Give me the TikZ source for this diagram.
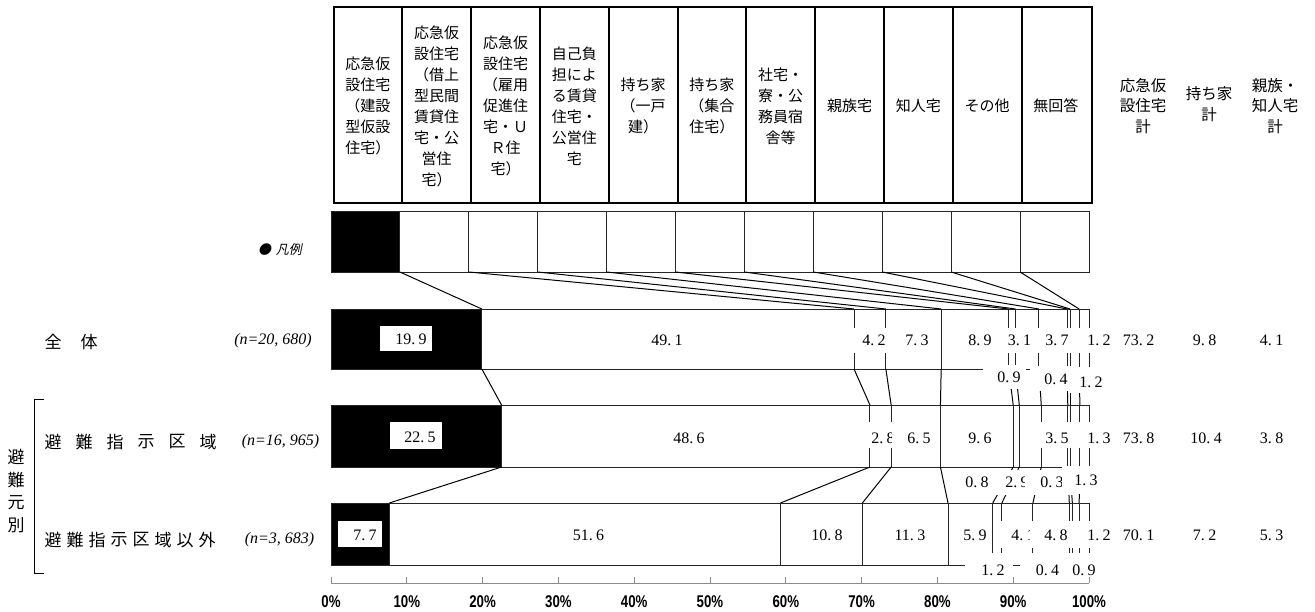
\documentclass[tikz,border=0pt]{standalone}
\usepackage{fontspec}
\setmainfont{Liberation Serif}
\newfontfamily\jp{Noto Sans CJK JP}
\newfontfamily\jpsl{Noto Sans CJK JP}[FakeSlant=0.2]
\newfontfamily\axf{Liberation Sans}
\newcommand{\dnum}[2]{#1.\kern3.5pt #2}
\newcommand{\lab}[8]{\fill[white] (#4,#6) rectangle (#5,#7);
  \node[num] (#1) at (#2,#3) {#8};}
\begin{document}
\begin{tikzpicture}[x=1pt,y=-1pt,
  hdr/.style={font=\jp\fontsize{15}{21}\selectfont, align=center, inner sep=0pt},
  rhdr/.style={font=\jp\fontsize{15.5}{20.5}\selectfont, align=center, inner sep=0pt},
  num/.style={font=\fontsize{16}{16}\selectfont, inner sep=0pt},
  jpl/.style={font=\jp\fontsize{17}{17}\selectfont, inner sep=0pt},
  nlab/.style={font=\itshape\fontsize{16}{16}\selectfont, inner sep=0pt},
  axl/.style={font=\axf\bfseries\fontsize{17}{17}\selectfont, inner sep=0pt},
  frame/.style={draw=black, line width=2pt},
  barline/.style={draw=black!85, line width=1pt},
  conn/.style={draw=black, line width=1pt},
  axis/.style={draw=black!45, line width=1pt},
]
\useasboundingbox (0,0) rectangle (1315,611);
\fill[white] (0,0) rectangle (1315,611);

% ---------- header ----------
\draw[frame] (333.5,7) rectangle (1091.5,203);
\foreach \i in {1,...,10} \draw[frame] ({333.5+68.8*\i},7) -- ({333.5+68.8*\i},203);
\foreach \t [count=\i] in {
  {応急仮\\設住宅\\（建設\\型仮設\\住宅）},
  {応急仮\\設住宅\\（借上\\型民間\\賃貸住\\宅・公\\営住\\宅）},
  {応急仮\\設住宅\\（雇用\\促進住\\宅・Ｕ\\Ｒ住\\宅）},
  {自己負\\担によ\\る賃貸\\住宅・\\公営住\\宅},
  {持ち家\\（一戸\\建）},
  {持ち家\\（集合\\住宅）},
  {社宅・\\寮・公\\務員宿\\舎等},
  {親族宅},{知人宅},{その他},{無回答}}
  \node[hdr] (hd\i) at ({333.5+68.8*(\i-0.5)},106) {\t};

\node[rhdr] (hs1) at (1143,106) {応急仮\\設住宅\\計};
\node[rhdr] (hs2) at (1209,104) {持ち家\\計};
\node[rhdr] (hs3) at (1275,106) {親族・\\知人宅\\計};

% ---------- legend bar ----------
\fill[black] (331,211) rectangle ({331+758/11},272);
\draw[barline] (331,211) rectangle (1089,272);
\foreach \i in {1,...,10} {
  \coordinate (Lt\i) at ({331+758*\i/11},211);
  \coordinate (L\i) at ({331+758*\i/11},272);
  \draw[barline] (Lt\i) -- (L\i);
}
\node[font=\jpsl\fontsize{13}{13}\selectfont, inner sep=0pt] (legend) at (280,250) {●\kern5pt 凡例};

% ---------- bars: boundaries ----------
\foreach \c [count=\i] in {19.9,69.0,73.2,80.5,89.4,90.3,93.4,97.1,97.5,98.7} {
  \coordinate (At\i) at ({331+7.58*\c},309);
  \coordinate (Ab\i) at ({331+7.58*\c},369);
}
\foreach \c [count=\i] in {22.5,71.1,73.9,80.4,90.0,90.8,93.7,97.2,97.5,98.8} {
  \coordinate (Bt\i) at ({331+7.58*\c},405);
  \coordinate (Bb\i) at ({331+7.58*\c},467);
}
\foreach \c [count=\i] in {7.7,59.3,70.1,81.4,87.3,88.5,92.6,97.4,97.8,98.7} {
  \coordinate (Ct\i) at ({331+7.58*\c},503);
  \coordinate (Cb\i) at ({331+7.58*\c},565);
}
\fill[black] (331,309) rectangle (Ab1);
\fill[black] (331,405) rectangle (Bb1);
\fill[black] (331,503) rectangle (Cb1);
\draw[barline] (331,309) rectangle (1089,369);
\draw[barline] (331,405) rectangle (1089,467);
\draw[barline] (331,503) rectangle (1089,565);
\foreach \i in {1,...,10} {
  \draw[barline] (At\i) -- (Ab\i);
  \draw[barline] (Bt\i) -- (Bb\i);
  \draw[barline] (Ct\i) -- (Cb\i);
  \draw[conn] (L\i) -- (At\i);
  \draw[conn] (Ab\i) -- (Bt\i);
  \draw[conn] (Bb\i) -- (Ct\i);
}

% ---------- data labels (white boxes, series order) ----------
\lab{a1}{411}{339}{380}{432}{326}{351}{\dnum{19}{9}}
\lab{a2}{667}{340}{645}{689}{327.5}{352.5}{\dnum{49}{1}}
\lab{a3}{874}{340}{851}{897}{327.5}{352.5}{\dnum{4}{2}}
\lab{a4}{917}{340}{895}{939}{327.5}{352.5}{\dnum{7}{3}}
\lab{a5}{980}{340}{958}{1002}{327.5}{352.5}{\dnum{8}{9}}
\lab{a6}{1009}{377}{983}{1026}{365}{389}{\dnum{0}{9}}
\lab{a7}{1019.5}{340}{997}{1042}{327.5}{352.5}{\dnum{3}{1}}
\lab{a8}{1057}{340}{1035}{1079.5}{327.5}{352.5}{\dnum{3}{7}}
\lab{a9}{1056}{379}{1030}{1078}{366}{391}{\dnum{0}{4}}
\lab{a10}{1091}{382.5}{1068}{1114}{367}{393}{\dnum{1}{2}}
\lab{a11}{1099}{340}{1077}{1121}{327.5}{352.5}{\dnum{1}{2}}

\lab{b1}{420}{437}{390}{442}{422}{449}{\dnum{22}{5}}
\lab{b2}{689}{438}{667}{711}{422}{448}{\dnum{48}{6}}
\lab{b3}{883}{438}{862}{908}{422}{448}{\dnum{2}{8}}
\lab{b4}{919}{438}{892}{938}{422}{448}{\dnum{6}{5}}
\lab{b5}{980}{438}{958}{1002}{422}{448}{\dnum{9}{6}}
\lab{b6}{977}{482.5}{955}{999}{470}{495}{\dnum{0}{8}}
\lab{b7}{1017}{482.5}{995}{1039}{470}{495}{\dnum{2}{9}}
\lab{b8}{1057}{438}{1035}{1081}{422}{448}{\dnum{3}{5}}
\lab{b9}{1052}{482.5}{1025}{1074}{470}{495}{\dnum{0}{3}}
\lab{b10}{1086}{480.5}{1062}{1110}{466}{494}{\dnum{1}{3}}
\lab{b11}{1099}{438}{1077}{1121}{422}{448}{\dnum{1}{3}}

\lab{c1}{365}{535}{338}{382}{521}{547}{\dnum{7}{7}}
\lab{c2}{588.5}{535}{566}{611}{521}{548}{\dnum{51}{6}}
\lab{c3}{827}{535}{805}{849}{521}{548}{\dnum{10}{8}}
\lab{c4}{910}{535}{888}{932}{521}{548}{\dnum{11}{3}}
\lab{c5}{975}{535}{955}{990}{521}{548}{\dnum{5}{9}}
\lab{c6}{993}{570}{965}{1013}{553}{586}{\dnum{1}{2}}
\lab{c7}{1023}{535}{1000}{1046}{521}{548}{\dnum{4}{1}}
\lab{c8}{1056}{535}{1030}{1080}{521}{548}{\dnum{4}{8}}
\lab{c9}{1047.5}{570}{1020}{1070}{553}{586}{\dnum{0}{4}}
\lab{c10}{1084}{570}{1062}{1108}{553}{586}{\dnum{0}{9}}
\lab{c11}{1099}{535}{1077}{1121}{521}{548}{\dnum{1}{2}}

% ---------- totals ----------
\node[num] (s11) at (1138.5,340) {\dnum{73}{2}};
\node[num] (s12) at (1204.5,340) {\dnum{9}{8}};
\node[num] (s13) at (1271.5,340) {\dnum{4}{1}};
\node[num] (s21) at (1138.5,438) {\dnum{73}{8}};
\node[num] (s22) at (1206,438) {\dnum{10}{4}};
\node[num] (s23) at (1271.5,438) {\dnum{3}{8}};
\node[num] (s31) at (1138.5,535) {\dnum{70}{1}};
\node[num] (s32) at (1204.5,535) {\dnum{7}{2}};
\node[num] (s33) at (1271.5,535) {\dnum{5}{3}};

% ---------- axis ----------
\draw[axis] (331,583) -- (1089,583);
\foreach \i in {0,...,10} {
  \draw[axis] ({331+75.8*\i},577) -- ({331+75.8*\i},583);
  \node[axl] (t\i) at ({331+75.8*\i},602) {\scalebox{0.78}[1]{\the\numexpr\i*10\relax\%}};
}

% ---------- row labels ----------
\node[jpl] (r1a) at (53,342) {全};
\node[jpl] (r1b) at (89,342) {体};
\foreach \ch [count=\k from 0] in {避,難,指,示,区,域}
  \node[jpl] (r2\k) at ({53+31*\k},442) {\ch};
\foreach \ch [count=\k from 0] in {避,難,指,示,区,域,以,外}
  \node[jpl] (r3\k) at ({53+22*\k},540) {\ch};
\foreach \ch [count=\k from 0] in {避,難,元,別}
  \node[jpl] (g\k) at (16,{457+22.6*\k}) {\ch};
\draw[line width=1pt] (44,399) -- (34.3,399) -- (34.3,573) -- (44,573);

\node[nlab] (n1) at (273,341) {(n=20, 680)};
\node[nlab] (n2) at (280.5,442) {(n=16, 965)};
\node[nlab] (n3) at (279.5,540) {(n=3, 683)};
\end{tikzpicture}
\end{document}
